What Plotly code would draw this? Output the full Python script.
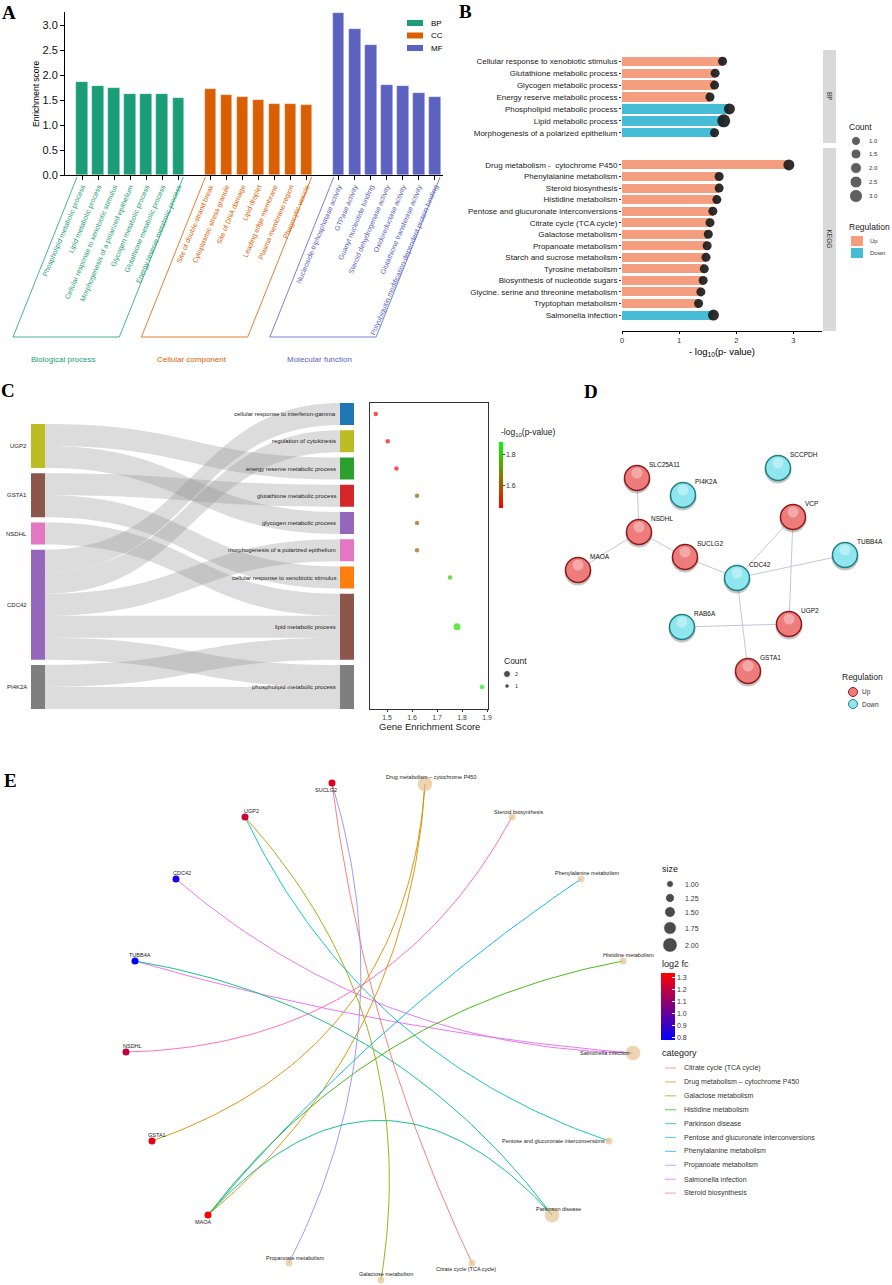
import numpy as np
import plotly.graph_objects as go

W, H = 892, 1285
SANS = "Arial, Liberation Sans, sans-serif"
SERIF = "Times New Roman, Liberation Serif, serif"

# ---------------- Panel A data ----------------
a_bp_terms = ["Phospholipid metabolic process", "Lipid metabolic process",
              "Cellular response to xenobiotic stimulus", "Morphogenesis of a polarized epithelium",
              "Glycogen metabolic process", "Glutathione metabolic process",
              "Energy reserve metabolic process"]
a_bp_scores = [1.87, 1.78, 1.75, 1.62, 1.62, 1.62, 1.54]
a_cc_terms = ["Site of double-strand break", "Cytoplasmic stress granule", "Site of DNA damage",
              "Lipid droplet", "Leading edge membrane", "Plasma membrane region", "Phagocytic vesicle"]
a_cc_scores = [1.73, 1.60, 1.56, 1.51, 1.43, 1.42, 1.40]
a_mf_terms = ["Nucleoside-triphosphatase activity", "GTPase activity", "Guanyl nucleotide binding",
              "Steroid dehydrogenase activity", "Oxidoreductase activity",
              "Glutathione transferase activity", "Polyubiquitin modification-dependent protein binding"]
a_mf_scores = [3.25, 2.92, 2.60, 1.80, 1.79, 1.64, 1.57]
a_group_names = ["BP", "CC", "MF"]
a_group_long = ["Biological process", "Cellular component", "Molecular function"]
a_yticks = [0.0, 0.5, 1.0, 1.5, 2.0, 2.5, 3.0]

# ---------------- Panel B data ----------------
b_bp_terms = ["Cellular response to xenobiotic stimulus", "Glutathione metabolic process",
              "Glycogen metabolic process", "Energy reserve metabolic process",
              "Phospholipid metabolic process", "Lipid metabolic process",
              "Morphogenesis of a polarized epithelium"]
b_bp_logp = [1.76, 1.63, 1.62, 1.54, 1.88, 1.78, 1.62]
b_bp_count = [1, 1, 1, 1, 2, 3, 1]
b_bp_reg = ["Up", "Up", "Up", "Up", "Down", "Down", "Down"]
b_kegg_terms = ["Drug metabolism -  cytochrome P450", "Phenylalanine metabolism", "Steroid biosynthesis",
                "Histidine metabolism", "Pentose and glucuronate interconversions",
                "Citrate cycle (TCA cycle)", "Galactose metabolism", "Propanoate metabolism",
                "Starch and sucrose metabolism", "Tyrosine metabolism",
                "Biosynthesis of nucleotide sugars", "Glycine. serine and threonine metabolism",
                "Tryptophan metabolism", "Salmonella infection"]
b_kegg_logp = [2.92, 1.70, 1.70, 1.66, 1.59, 1.54, 1.51, 1.49, 1.47, 1.44, 1.42, 1.38, 1.34, 1.60]
b_kegg_count = [2, 1, 1, 1, 1, 1, 1, 1, 1, 1, 1, 1, 1, 2]
b_kegg_reg = ["Up"] * 13 + ["Down"]
b_xticks = [0, 1, 2, 3]
b_count_legend = [1.0, 1.5, 2.0, 2.5, 3.0]

# ---------------- Panel C data ----------------
c_genes = ["UGP2", "GSTA1", "NSDHL", "CDC42", "PI4K2A"]
c_terms = ["cellular response to interferon-gamma", "regulation of cytokinesis",
           "energy reserve metabolic process", "glutathione metabolic process",
           "glycogen metabolic process", "morphogenesis of a polarized epithelium",
           "cellular response to xenobiotic stimulus", "lipid metabolic process",
           "phospholipid metabolic process"]
c_link_src = ["UGP2", "UGP2", "GSTA1", "GSTA1", "NSDHL", "CDC42", "CDC42", "CDC42", "CDC42", "CDC42",
              "PI4K2A", "PI4K2A"]
c_link_tgt = ["energy reserve metabolic process", "glycogen metabolic process",
              "glutathione metabolic process", "cellular response to xenobiotic stimulus",
              "lipid metabolic process", "cellular response to interferon-gamma",
              "regulation of cytokinesis", "morphogenesis of a polarized epithelium",
              "lipid metabolic process", "phospholipid metabolic process",
              "lipid metabolic process", "phospholipid metabolic process"]
c_score = [1.455, 1.503, 1.538, 1.62, 1.62, 1.62, 1.752, 1.78, 1.88]
c_logp = [1.46, 1.47, 1.48, 1.62, 1.62, 1.62, 1.80, 1.82, 1.875]
c_count = [1, 1, 1, 1, 1, 1, 1, 2, 1]
c_gene_colors = ["#bcbd22", "#8c564b", "#e377c2", "#9467bd", "#7f7f7f"]
c_term_colors = ["#1f77b4", "#bcbd22", "#2ca02c", "#d62728", "#9467bd", "#e377c2", "#ff7f0e",
                 "#8c564b", "#7f7f7f"]
c_xticks = [1.5, 1.6, 1.7, 1.8, 1.9]

# ---------------- Panel D data ----------------
d_nodes = ["SLC25A11", "PI4K2A", "SCCPDH", "VCP", "NSDHL", "SUCLG2", "MAOA", "CDC42", "TUBB4A",
           "RAB6A", "UGP2", "GSTA1"]
d_reg = ["Up", "Down", "Down", "Up", "Up", "Up", "Up", "Down", "Down", "Down", "Up", "Up"]
d_x = [637, 683, 778, 793, 639, 685, 578, 737, 845, 682, 789, 748]
d_y = [478, 495, 468, 517, 532, 557, 570, 578, 555, 627, 624, 671]
d_edge_a = ["SLC25A11", "NSDHL", "NSDHL", "SUCLG2", "CDC42", "CDC42", "CDC42", "VCP", "RAB6A"]
d_edge_b = ["NSDHL", "MAOA", "SUCLG2", "CDC42", "VCP", "TUBB4A", "GSTA1", "UGP2", "UGP2"]

# ---------------- Panel E data ----------------
e_genes = ["SUCLG2", "UGP2", "CDC42", "TUBB4A", "NSDHL", "GSTA1", "MAOA"]
e_gene_fc = [1.27, 1.23, 0.83, 0.78, 1.20, 1.27, 1.34]
e_gene_x = [332, 245, 176, 135, 126, 152, 208]
e_gene_y = [783, 817, 879, 961, 1052, 1141, 1215]
e_paths = ["Citrate cycle (TCA cycle)", "Drug metabolism – cytochrome P450", "Galactose metabolism",
           "Histidine metabolism", "Parkinson disease", "Pentose and glucuronate interconversions",
           "Phenylalanine metabolism", "Propanoate metabolism", "Salmonella infection",
           "Steroid biosynthesis"]
e_path_size = [1, 2, 1, 1, 2, 1, 1, 1, 2, 1]
e_path_x = [472, 425, 381, 623, 552, 609, 581, 289, 633, 512]
e_path_y = [1263, 784, 1280, 961, 1215, 1141, 879, 1263, 1053, 817]
e_edge_gene = ["SUCLG2", "SUCLG2", "UGP2", "UGP2", "CDC42", "TUBB4A", "TUBB4A", "NSDHL", "GSTA1",
               "MAOA", "MAOA", "MAOA", "MAOA"]
e_edge_path = ["Propanoate metabolism", "Citrate cycle (TCA cycle)", "Galactose metabolism",
               "Pentose and glucuronate interconversions", "Salmonella infection",
               "Salmonella infection", "Parkinson disease", "Steroid biosynthesis",
               "Drug metabolism – cytochrome P450", "Drug metabolism – cytochrome P450",
               "Phenylalanine metabolism", "Histidine metabolism", "Parkinson disease"]
e_size_legend = [1.00, 1.25, 1.50, 1.75, 2.00]
e_fc_ticks = [0.8, 0.9, 1.0, 1.1, 1.2, 1.3]

# ================= styles =================
a_colors = {"BP": "#1b9e77", "CC": "#d95f02", "MF": "#5b62c0"}
b_col = {"Up": "#f49d7f", "Down": "#47bcd6"}
d_fill = {"Up": "#ef7c7c", "Down": "#8fe6ee"}
d_rim = {"Up": "#8e1a1a", "Down": "#1f7f85"}
e_cat_colors = ["#F8766D", "#D89000", "#A3A500", "#39B600", "#00BF7D", "#00BFC4", "#00B0F6",
                "#9590FF", "#E76BF3", "#FF62BC"]
e_edge_bend = [-0.2, 0.08, -0.24, 0.21, 0.18, 0.05, -0.2, 0.29, 0.33, 0.215, -0.07, -0.19, -0.55]


def X(px):
    return px / W


def Y(py):
    return 1 - py / H


fig = go.Figure()
ann = []
shp = []


def T(x, y, s, size=8, color="#000", xa="center", ya="middle", angle=0, family=SANS):
    ann.append(dict(x=x, y=y, xref="x5", yref="y5", text=s, showarrow=False,
                    font=dict(size=size, color=color, family=family),
                    xanchor=xa, yanchor=ya, textangle=angle, borderpad=0))


# panel letters
for letter, (lx, ly) in zip("ABCDE", [(9, 12), (465, 11), (8, 390), (591, 391), (10, 780)]):
    T(lx, ly, f"<b>{letter}</b>", 19, family=SERIF)

# ================= Panel A =================
a_groups = [a_bp_terms, a_cc_terms, a_mf_terms]
a_scores = [a_bp_scores, a_cc_scores, a_mf_scores]
a_tickvals, a_ticktext = [], []
pos = 0
slot_px, x0_px = 16.05, 82.0
for gname, glong, terms, scores in zip(a_group_names, a_group_long, a_groups, a_scores):
    col = a_colors[gname]
    xs = list(range(pos, pos + len(terms)))
    fig.add_trace(go.Bar(x=xs, y=scores, width=0.72, xaxis="x", yaxis="y", showlegend=False,
                         marker=dict(color=col, line=dict(width=0.6, color="rgba(255,255,255,0.5)"))))
    a_tickvals += xs
    a_ticktext += [f"<span style='color:{col}'>{t}</span>" for t in terms]
    lt = x0_px + slot_px * xs[0] - 5
    rt = x0_px + slot_px * xs[-1] + 5
    sh = 64
    shp.append(dict(type="path", xref="x5", yref="y5",
                    path=f"M {lt},177 L {lt - sh},337 L {rt - sh},337 L {rt},177",
                    line=dict(color=col, width=0.8)))
    T((lt + rt) / 2 - sh - 3, 359, glong, 8, col)
    pos += len(terms) + 1

T(36, 94, "Enrichment score", 8.5, angle=-90)
for i, g in enumerate(a_group_names):
    yy = 23 + 12.5 * i
    shp.append(dict(type="rect", xref="x5", yref="y5", x0=407, x1=423, y0=yy - 3, y1=yy + 3,
                    fillcolor=a_colors[g], line=dict(width=0)))
    T(430, yy, g, 8, xa="left")

# ================= Panel B =================
for terms, vals, counts, regs, xa, ya in [
        (b_bp_terms, b_bp_logp, b_bp_count, b_bp_reg, "x2", "y2"),
        (b_kegg_terms, b_kegg_logp, b_kegg_count, b_kegg_reg, "x3", "y3")]:
    fig.add_trace(go.Bar(y=terms, x=vals, orientation="h", width=0.78, xaxis=xa, yaxis=ya,
                         marker=dict(color=[b_col[r] for r in regs], line=dict(width=0)),
                         showlegend=False))
    fig.add_trace(go.Scatter(y=terms, x=vals, mode="markers", xaxis=xa, yaxis=ya, showlegend=False,
                             cliponaxis=False,
                             marker=dict(size=[7 + 2 * c for c in counts], color="#1c1c1c",
                                         opacity=0.92, line=dict(width=0))))

shp.append(dict(type="rect", xref="x5", yref="y5", x0=823, x1=836, y0=50, y1=143,
                fillcolor="#d9d9d9", line=dict(width=0)))
shp.append(dict(type="rect", xref="x5", yref="y5", x0=823, x1=836, y0=148, y1=331,
                fillcolor="#d9d9d9", line=dict(width=0)))
T(829.5, 96.5, "BP", 6.5, "#333", angle=90)
T(829.5, 239, "KEGG", 6.5, "#333", angle=90)
T(722, 352, "- log<sub>10</sub>(p- value)", 9.5)

T(848, 127, "Count", 8.5, "#222", xa="left")
b_leg_y = [141, 154, 168, 182, 196]
fig.add_trace(go.Scatter(x=[856] * len(b_count_legend), y=b_leg_y, mode="markers",
                         xaxis="x5", yaxis="y5", showlegend=False,
                         marker=dict(size=[7 + 2 * c for c in b_count_legend], color="#1c1c1c")))
for v, yy in zip(b_count_legend, b_leg_y):
    T(868, yy, f"{v:.1f}", 6, "#333", xa="left")
T(848, 227, "Regulation", 8.5, "#222", xa="left")
for i, r in enumerate(["Up", "Down"]):
    yy = 241 + 12 * i
    shp.append(dict(type="rect", xref="x5", yref="y5", x0=851, x1=863, y0=yy - 5, y1=yy + 5,
                    fillcolor=b_col[r], line=dict(width=0)))
    T(869, yy, r, 6, "#333", xa="left")

# ================= Panel C =================
c_nodes = c_genes + c_terms
c_idx = {n: i for i, n in enumerate(c_nodes)}
gene_units = [c_link_src.count(g) for g in c_genes]
term_units = [c_link_tgt.count(t) for t in c_terms]
Hs, Ws, pad, thick = 306.0, 323.0, 5.25, 14
unit = (Hs - pad * (len(c_terms) - 1)) / sum(term_units)


def centers(units, start):
    res, y = [], start
    for u in units:
        h = u * unit
        res.append(y + h / 2)
        y += h + pad
    return res


term_c = centers(term_units, 0.0)
gene_c = centers(gene_units, Hs - (sum(gene_units) * unit + pad * (len(c_genes) - 1)))
node_x = [thick / 2 / Ws] * len(c_genes) + [1 - thick / 2 / Ws] * len(c_terms)
node_y = [g / Hs for g in gene_c] + [t / Hs for t in term_c]

fig.add_trace(go.Sankey(
    domain=dict(x=[X(31), X(354)], y=[Y(709), Y(403)]),
    arrangement="fixed",
    node=dict(label=[""] * len(c_nodes), x=node_x, y=node_y, pad=pad, thickness=thick,
              color=c_gene_colors + c_term_colors, line=dict(width=0)),
    link=dict(source=[c_idx[s] for s in c_link_src], target=[c_idx[t] for t in c_link_tgt],
              value=[1] * len(c_link_src), color="rgba(150,150,150,0.33)"),
))
for g, yc in zip(c_genes, gene_c):
    T(28, 403 + yc, g, 6, "#222", xa="right")
for t, yc in zip(c_terms, term_c):
    T(337, 403 + yc, t, 6, "#222", xa="right")

fig.add_trace(go.Scatter(
    x=c_score, y=[t / Hs for t in term_c], mode="markers", xaxis="x4", yaxis="y4", showlegend=False,
    marker=dict(size=[4.5 if c == 1 else 7 for c in c_count], color=c_logp,
                colorscale=[[0, "#ff0000"], [1, "#00ff00"]], cmin=1.455, cmax=1.878,
                line=dict(width=0),
                colorbar=dict(x=X(499), xanchor="left", y=Y(442), yanchor="top", len=66,
                              lenmode="pixels", thickness=4, thicknessmode="pixels",
                              tickvals=[1.6, 1.8], ticks="outside", ticklen=2,
                              tickfont=dict(size=7, family=SANS, color="#333"),
                              outlinewidth=0, xpad=0, ypad=0))))
T(500, 432, "-log<sub>10</sub>(p-value)", 8.5, "#222", xa="left")
T(429, 726, "Gene Enrichment Score", 9.5, "#222")
T(503, 661, "Count", 8.5, "#222", xa="left")
fig.add_trace(go.Scatter(x=[507, 507], y=[674, 686], mode="markers", xaxis="x5", yaxis="y5",
                         showlegend=False, marker=dict(size=[7, 4.5], color="#000")))
T(514, 674, "2", 5.5, "#333", xa="left")
T(514, 686, "1", 5.5, "#333", xa="left")

# ================= Panel D =================
d_pos = {n: (x, y) for n, x, y in zip(d_nodes, d_x, d_y)}
ex, ey = [], []
for a, b in zip(d_edge_a, d_edge_b):
    ex += [d_pos[a][0], d_pos[b][0], None]
    ey += [d_pos[a][1], d_pos[b][1], None]
fig.add_trace(go.Scatter(x=ex, y=ey, mode="lines", xaxis="x5", yaxis="y5", showlegend=False,
                         line=dict(color="#c5c5e0", width=1)))
for r in ["Up", "Down"]:
    xs = [x for x, rr in zip(d_x, d_reg) if rr == r]
    ys = [y for y, rr in zip(d_y, d_reg) if rr == r]
    fig.add_trace(go.Scatter(x=xs, y=[y + 2 for y in ys], mode="markers", xaxis="x5", yaxis="y5",
                             showlegend=False,
                             marker=dict(size=27, color="rgba(90,90,90,0.35)", line=dict(width=0))))
    fig.add_trace(go.Scatter(x=xs, y=ys, mode="markers", xaxis="x5", yaxis="y5", showlegend=False,
                             marker=dict(size=25, color=d_fill[r], line=dict(width=1.5, color=d_rim[r]))))
    fig.add_trace(go.Scatter(x=xs, y=[y - 5 for y in ys], mode="markers", xaxis="x5", yaxis="y5",
                             showlegend=False,
                             marker=dict(size=11, color="rgba(255,255,255,0.35)", line=dict(width=0))))
for n, x, y in zip(d_nodes, d_x, d_y):
    T(x + 11, y - 14, n, 6.5, "#111", xa="left")
T(862, 677, "Regulation", 8.5, "#222")
for i, r in enumerate(["Up", "Down"]):
    yy = 692 + 12 * i
    fig.add_trace(go.Scatter(x=[853], y=[yy], mode="markers", xaxis="x5", yaxis="y5", showlegend=False,
                             marker=dict(size=9, color=d_fill[r], line=dict(width=1, color=d_rim[r]))))
    T(861, yy, r, 6.5, "#333", xa="left")

# ================= Panel E =================
g_pos = {n: (x, y) for n, x, y in zip(e_genes, e_gene_x, e_gene_y)}
p_pos = {n: (x, y) for n, x, y in zip(e_paths, e_path_x, e_path_y)}


def bez(p0, p2, c, n=60):
    p0 = np.array(p0, float)
    p2 = np.array(p2, float)
    d = p2 - p0
    L = np.hypot(*d)
    nv = np.array([-d[1], d[0]]) / L
    p1 = (p0 + p2) / 2 + c * L * nv
    t = np.linspace(0, 1, n)[:, None]
    pts = (1 - t) ** 2 * p0 + 2 * (1 - t) * t * p1 + t ** 2 * p2
    return pts[:, 0], pts[:, 1]


for g, p, c in zip(e_edge_gene, e_edge_path, e_edge_bend):
    bx, by = bez(g_pos[g], p_pos[p], c)
    col = e_cat_colors[e_paths.index(p)]
    fig.add_trace(go.Scatter(x=bx, y=by, mode="lines", xaxis="x5", yaxis="y5", showlegend=False,
                             line=dict(color=col, width=1), opacity=0.9))


def esize(s):
    return 7 + 7.7 * (s - 1)


fig.add_trace(go.Scatter(x=e_path_x, y=e_path_y, mode="markers", xaxis="x5", yaxis="y5",
                         showlegend=False,
                         marker=dict(size=[esize(s) for s in e_path_size], color="#e5c391",
                                     line=dict(width=0))))
fig.add_trace(go.Scatter(
    x=e_gene_x, y=e_gene_y, mode="markers", xaxis="x5", yaxis="y5", showlegend=False,
    marker=dict(size=7, color=e_gene_fc, colorscale=[[0, "#0000ff"], [1, "#ff0000"]],
                cmin=0.775, cmax=1.342, line=dict(width=0),
                colorbar=dict(x=X(661), xanchor="left", y=Y(973), yanchor="top", len=67,
                              lenmode="pixels", thickness=14, thicknessmode="pixels",
                              tickvals=e_fc_ticks, ticktext=[f"{v:.1f}" for v in e_fc_ticks],
                              ticks="inside", ticklen=3, tickcolor="white",
                              tickfont=dict(size=7, family=SANS, color="#333"),
                              outlinewidth=0, xpad=0, ypad=0))))

e_label_off = {
    "SUCLG2": (-6, 7), "UGP2": (6, -6), "CDC42": (6, -6), "TUBB4A": (5, -6), "NSDHL": (6, -6),
    "GSTA1": (5, -6), "MAOA": (-5, 7),
    "Citrate cycle (TCA cycle)": (-6, 6), "Drug metabolism – cytochrome P450": (6, -7),
    "Galactose metabolism": (5, -6), "Histidine metabolism": (5, -6), "Parkinson disease": (6, -6),
    "Phenylalanine metabolism": (6, -6), "Propanoate metabolism": (6, -5),
    "Steroid biosynthesis": (6, -5),
}
for n, x, y in list(zip(e_genes, e_gene_x, e_gene_y)) + list(zip(e_paths, e_path_x, e_path_y)):
    if n in ("Salmonella infection", "Pentose and glucuronate interconversions"):
        T(x - 3, y, n, 5.5, "#222", xa="right")
    else:
        dx, dy = e_label_off[n]
        T(x + dx, y + dy, n, 5.5, "#222")

T(661, 869, "size", 9, "#222", xa="left")
e_sl_y = [884, 898, 912, 928, 945]
fig.add_trace(go.Scatter(x=[670] * 5, y=e_sl_y, mode="markers", xaxis="x5", yaxis="y5",
                         showlegend=False,
                         marker=dict(size=[esize(s) for s in e_size_legend], color="#000")))
for v, yy in zip(e_size_legend, e_sl_y):
    T(684, yy, f"{v:.2f}", 7, "#333", xa="left")
T(661, 964, "log2 fc", 9, "#222", xa="left")
T(661, 1053, "category", 9, "#222", xa="left")
for i, (p, col) in enumerate(zip(e_paths, e_cat_colors)):
    yy = 1068 + 13.9 * i
    shp.append(dict(type="line", xref="x5", yref="y5", x0=665, x1=676, y0=yy, y1=yy,
                    line=dict(color=col, width=1.2), opacity=0.6))
    T(683, yy, p, 7, "#333", xa="left")

for s in shp:
    s.setdefault("layer", "above")

fig.update_layout(
    template="none",
    width=W, height=H, autosize=False, margin=dict(l=0, r=0, t=0, b=0, pad=0),
    paper_bgcolor="white", plot_bgcolor="rgba(0,0,0,0)", showlegend=False,
    font=dict(family=SANS, color="#222"),
    bargap=0,
    xaxis=dict(domain=[X(65), X(443)], range=[-1.06, 22.5], anchor="y", tickmode="array",
               tickvals=a_tickvals, ticktext=a_ticktext, tickangle=-67, ticks="outside", ticklen=4,
               tickcolor="#000", showline=True, linecolor="#000", linewidth=1, automargin=False,
               tickfont=dict(size=7, family=SANS), showgrid=False, zeroline=False),
    yaxis=dict(domain=[Y(175), Y(12)], range=[0, 3.27], anchor="x", tickmode="array",
               tickvals=a_yticks, ticktext=[f"{v:.1f}" for v in a_yticks], ticks="outside",
               ticklen=4, tickcolor="#000", showline=True, linecolor="#000", linewidth=1,
               automargin=False,
               tickfont=dict(size=11, family=SANS, color="#111"), showgrid=False, zeroline=False),
    xaxis2=dict(domain=[X(622), X(822)], range=[0, 3.5], anchor="y2", showticklabels=False,
                ticks="", showline=False, showgrid=False, zeroline=False, automargin=False),
    yaxis2=dict(domain=[Y(143), Y(51)], anchor="x2", type="category", autorange="reversed",
                ticks="outside", ticklen=2, tickcolor="#333", showline=False, showgrid=False,
                zeroline=False, automargin=False, tickfont=dict(size=8, family=SANS, color="#222")),
    xaxis3=dict(domain=[X(622), X(822)], range=[0, 3.5], anchor="y3", tickmode="array",
                tickvals=b_xticks, ticks="outside", ticklen=2, tickcolor="#000", showline=True,
                linecolor="#000", linewidth=1, showgrid=False, zeroline=False, automargin=False,
                tickfont=dict(size=7.5, family=SANS, color="#333")),
    yaxis3=dict(domain=[Y(331), Y(149)], anchor="x3", type="category", autorange="reversed",
                ticks="outside", ticklen=2, tickcolor="#333", showline=False, showgrid=False,
                zeroline=False, automargin=False, tickfont=dict(size=8, family=SANS, color="#222")),
    xaxis4=dict(domain=[X(370), X(488)], range=[1.432, 1.904], anchor="y4", tickmode="array",
                tickvals=c_xticks, ticks="outside", ticklen=2, tickcolor="#333", showline=True,
                mirror=True, linecolor="#333", linewidth=1, showgrid=False, zeroline=False,
                automargin=False, tickfont=dict(size=7, family=SANS, color="#444")),
    yaxis4=dict(domain=[Y(709), Y(403)], range=[1, 0], anchor="x4", showticklabels=False, ticks="",
                showline=True, mirror=True, linecolor="#333", linewidth=1, showgrid=False,
                zeroline=False, automargin=False),
    xaxis5=dict(domain=[0, 1], range=[0, W], anchor="y5", visible=False, fixedrange=True,
                automargin=False),
    yaxis5=dict(domain=[0, 1], range=[H, 0], anchor="x5", visible=False, fixedrange=True,
                automargin=False),
    annotations=ann, shapes=shp,
)

fig.write_html("out.html", config={"displayModeBar": False},
               post_script="document.body.style.margin='0px';document.body.style.overflow='hidden';")
